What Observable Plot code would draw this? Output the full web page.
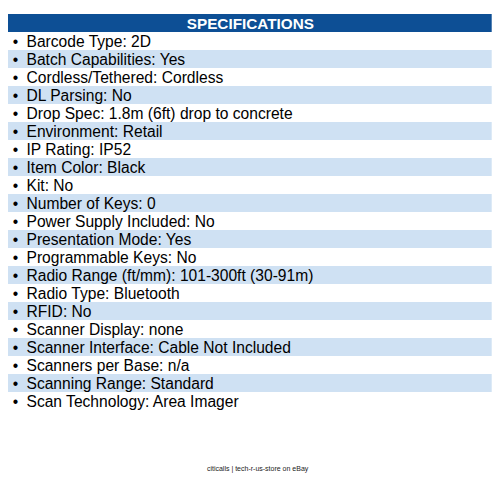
<!DOCTYPE html>
<html>
<head>
<meta charset="utf-8">
<script src="https://cdn.jsdelivr.net/npm/d3@7"></script>
<script src="https://cdn.jsdelivr.net/npm/@observablehq/plot@0.6"></script>
<style>
  html, body { margin: 0; padding: 0; background: #fff; }
  #chart svg { display: block; }
</style>
</head>
<body>
<div id="chart"></div>
<script>
const title = "SPECIFICATIONS";
const specNames = [
  "Barcode Type", "Batch Capabilities", "Cordless/Tethered", "DL Parsing",
  "Drop Spec", "Environment", "IP Rating", "Item Color", "Kit",
  "Number of Keys", "Power Supply Included", "Presentation Mode",
  "Programmable Keys", "Radio Range (ft/mm)", "Radio Type", "RFID",
  "Scanner Display", "Scanner Interface", "Scanners per Base",
  "Scanning Range", "Scan Technology"
];
const specValues = [
  "2D", "Yes", "Cordless", "No",
  "1.8m (6ft) drop to concrete", "Retail", "IP52", "Black", "No",
  "0", "No", "Yes",
  "No", "101-300ft (30-91m)", "Bluetooth", "No",
  "none", "Cable Not Included", "n/a",
  "Standard", "Area Imager"
];
const footer = "citicalls | tech-r-us-store on eBay";

const rows = specNames.map((name, i) => ({
  key: "r" + i,
  label: `${name}: ${specValues[i]}`,
  striped: i % 2 === 1
}));
const bandDomain = ["header", ...rows.map(d => d.key)];

const chart = Plot.plot({
  width: 500,
  height: 477,
  margin: 0,
  style: { fontFamily: "'Liberation Sans', Arial, sans-serif", background: "#fff" },
  x: { domain: [0, 1], range: [8, 491.7], axis: null },
  y: { type: "band", domain: bandDomain, range: [6, 417.6], padding: 0, axis: null },
  marks: [
    // header bar
    Plot.barX([{ key: "header" }], { x1: 0, x2: 1, y: "key", fill: "#0d4f95" }),
    Plot.text([{ key: "header", t: title }], {
      x: 0.5, y: "key", text: "t", fill: "#fff", fontWeight: "bold",
      fontSize: 15.3, textAnchor: "middle", dy: 0.5
    }),
    // zebra stripes
    Plot.barX(rows.filter(d => d.striped), { x1: 0, x2: 1, y: "key", fill: "#cfe1f3" }),
    // bullets
    Plot.text(rows, { x: 0, y: "key", text: () => "•", dx: 7, fill: "#000", fontSize: 15.6, textAnchor: "middle" }),
    // labels
    Plot.text(rows, { x: 0, y: "key", text: "label", dx: 18, fill: "#000", fontSize: 15.6, textAnchor: "start" }),
    // footer
    Plot.text([footer], { x: 0.515, frameAnchor: "bottom", dy: -6.5, fill: "#222", fontSize: 7, textAnchor: "middle" })
  ]
});
document.getElementById("chart").appendChild(chart);
</script>
</body>
</html>
